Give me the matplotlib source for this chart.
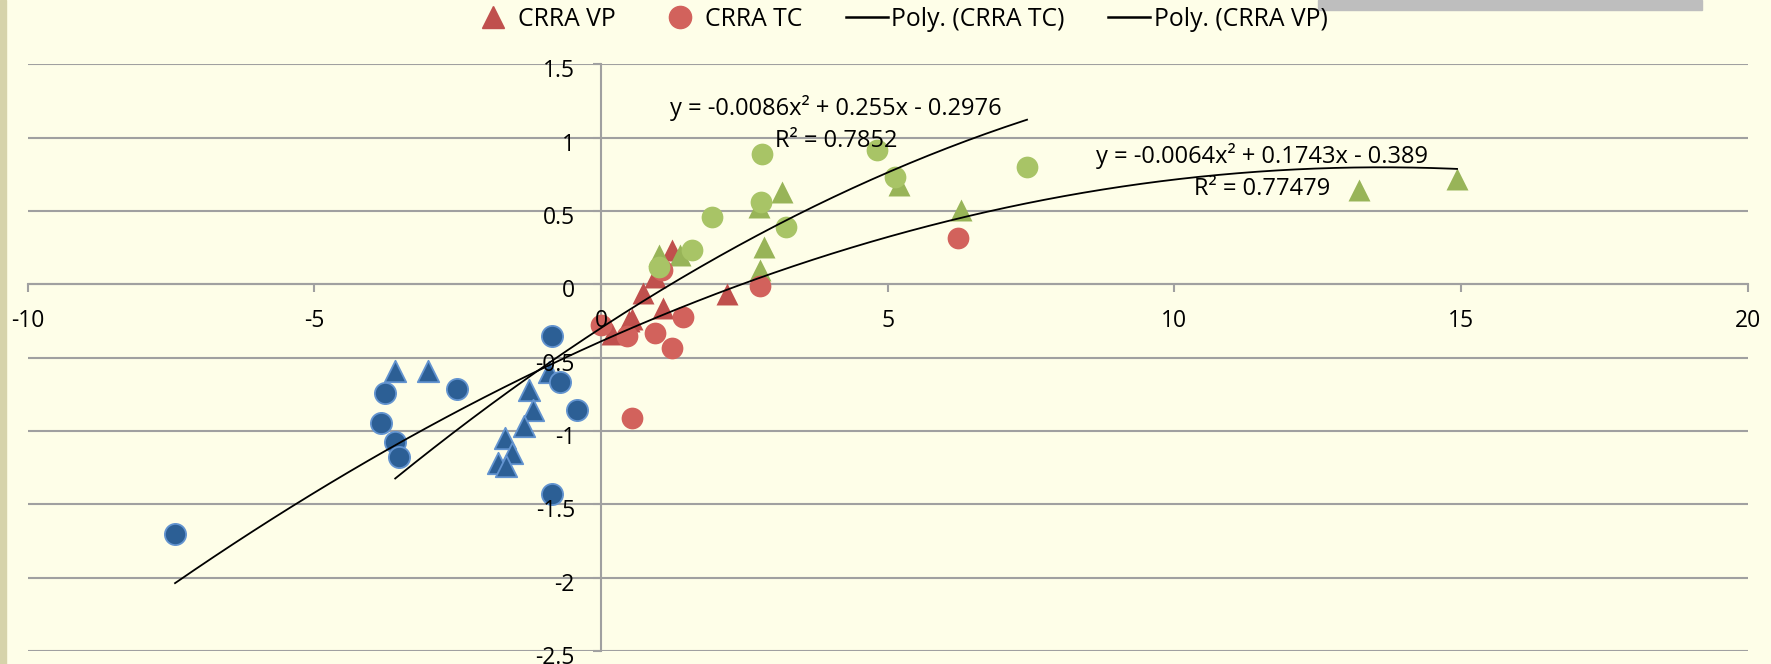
import matplotlib
matplotlib.use("Agg")
import matplotlib.pyplot as plt
import matplotlib.transforms as mtransforms
from matplotlib.lines import Line2D
from matplotlib.patches import Rectangle
import numpy as np

plt.rcParams['font.family'] = ['Open Sans', 'DejaVu Sans']

# ---------------- data ----------------
# blue (negative) points
blue_tri_x = [-3.59, -3.01, -0.90, -1.26, -1.19, -1.34, -1.68, -1.55, -1.80, -1.66]
blue_tri_y = [-0.59, -0.59, -0.595, -0.72, -0.86, -0.965, -1.05, -1.147, -1.215, -1.236]
blue_circ_x = [-7.43, -0.86, -3.76, -2.51, -0.72, -0.42, -3.83, -3.59, -3.52, -0.85]
blue_circ_y = [-1.70, -0.352, -0.738, -0.715, -0.663, -0.856, -0.947, -1.072, -1.175, -1.429]
# red (around zero) points
red_tri_x = [0.19, 0.535, 0.48, 0.74, 1.08, 2.19, 1.23, 0.94]
red_tri_y = [-0.338, -0.238, -0.25, -0.061, -0.163, -0.068, 0.234, 0.052]
red_circ_x = [-0.005, 0.45, 0.94, 1.23, 1.425, 2.77, 0.535, 1.06, 6.23]
red_circ_y = [-0.277, -0.352, -0.334, -0.436, -0.224, -0.009, -0.913, 0.098, 0.318]
# green (positive) points
green_tri_x = [3.15, 5.19, 2.76, 2.85, 2.77, 1.01, 1.38, 6.27, 13.22, 14.93]
green_tri_y = [0.632, 0.678, 0.526, 0.257, 0.098, 0.20, 0.20, 0.507, 0.644, 0.716]
green_circ_x = [2.80, 4.81, 5.13, 2.79, 1.93, 3.22, 1.59, 1.01, 7.43]
green_circ_y = [0.887, 0.916, 0.73, 0.56, 0.457, 0.389, 0.234, 0.121, 0.80]

# polynomial trendlines (coefficients a, b, c of a*x^2 + b*x + c)
tc_coef = [-0.0086, 0.255, -0.2976]
vp_coef = [-0.0064, 0.1743, -0.389]
tc_label = ["y = -0.0086x\u00b2 + 0.255x - 0.2976", "R\u00b2 = 0.7852"]
vp_label = ["y = -0.0064x\u00b2 + 0.1743x - 0.389", "R\u00b2 = 0.77479"]

legend_labels = ["CRRA VP", "CRRA TC", "Poly. (CRRA TC)", "Poly. (CRRA VP)"]

x_ticks = [-10, -5, 0, 5, 10, 15, 20]
x_tick_labels = ["-10", "-5", "0", "5", "10", "15", "20"]
y_ticks = [-2.5, -2, -1.5, -1, -0.5, 0, 0.5, 1, 1.5]
y_tick_labels = ["-2.5", "-2", "-1.5", "-1", "-0.5", "0", "0.5", "1", "1.5"]

# ---------------- style ----------------
BG = "#FEFEE8"
GRID = "#A0A0A0"
BLUE = "#2C5F95"
BLUE_EDGE = "#6394D0"
RED_TRI = "#C0504D"
RED_CIRC = "#D2625C"
GREEN_TRI = "#98B458"
GREEN_CIRC = "#A8C466"
FS = 16.5

W, H = 1771, 664
fig = plt.figure(figsize=(W / 100, H / 100), dpi=100, facecolor=BG)
ax = fig.add_axes([27.7 / W, 13 / H, 1720 / W, 586.7 / H])
ax.set_facecolor(BG)
ax.set_xlim(-10, 20)
ax.set_ylim(-2.5, 1.5)

for yv in y_ticks:
    ax.axhline(yv, color=GRID, lw=1.5, zorder=0.5)

for s in ["top", "right"]:
    ax.spines[s].set_visible(False)
ax.spines["left"].set_position(("data", 0))
ax.spines["bottom"].set_position(("data", 0))
for s in ["left", "bottom"]:
    ax.spines[s].set_color(GRID)
    ax.spines[s].set_linewidth(1.5)
    ax.spines[s].set_zorder(0.6)

ax.set_xticks(x_ticks)
ax.set_xticklabels(x_tick_labels)
ax.set_yticks(y_ticks)
ax.set_yticklabels(y_tick_labels)
ax.tick_params(axis="x", direction="out", length=5.8, width=1.5, color=GRID,
               pad=12, labelsize=FS, labelcolor="black")
ax.tick_params(axis="y", direction="out", length=5.8, width=1.5, color=GRID,
               pad=13, labelsize=FS, labelcolor="black")
off = mtransforms.ScaledTranslation(0, -4 / 100, fig.dpi_scale_trans)
for lab in ax.get_yticklabels():
    lab.set_transform(lab.get_transform() + off)

S_TRI = 250
S_CIRC = 245
ax.scatter(red_tri_x, red_tri_y, marker="^", s=S_TRI, color=RED_TRI, linewidths=0, zorder=1)
ax.scatter(blue_tri_x, blue_tri_y, marker="^", s=S_TRI * 0.95, color=BLUE,
           edgecolors=BLUE_EDGE, linewidths=1.3, zorder=1)
ax.scatter(green_tri_x, green_tri_y, marker="^", s=S_TRI, color=GREEN_TRI, linewidths=0, zorder=1)
ax.scatter(red_circ_x, red_circ_y, marker="o", s=S_CIRC, color=RED_CIRC, linewidths=0, zorder=1)
ax.scatter(blue_circ_x, blue_circ_y, marker="o", s=S_CIRC * 0.95, color=BLUE,
           edgecolors=BLUE_EDGE, linewidths=1.3, zorder=1)
ax.scatter(green_circ_x, green_circ_y, marker="o", s=S_CIRC, color=GREEN_CIRC, linewidths=0, zorder=1)

# trendline ranges from the series they were fitted on
tc_x_all = np.array(blue_tri_x + red_circ_x + green_circ_x)
vp_x_all = np.array(blue_circ_x + red_tri_x + green_tri_x)

def poly(c, x):
    return c[0] * x ** 2 + c[1] * x + c[2]

xt = np.linspace(tc_x_all.min(), tc_x_all.max(), 200)
ax.plot(xt, poly(tc_coef, xt), color="black", lw=1.3, zorder=2)
xv = np.linspace(vp_x_all.min(), vp_x_all.max(), 200)
ax.plot(xv, poly(vp_coef, xv), color="black", lw=1.3, zorder=2)

FS_EQ = 17
ax.text(4.10, 1.155, tc_label[0], ha="center", va="baseline", fontsize=FS_EQ, zorder=3)
ax.text(4.10, 0.939, tc_label[1], ha="center", va="baseline", fontsize=FS_EQ, zorder=3)
ax.text(11.53, 0.826, vp_label[0], ha="center", va="baseline", fontsize=FS_EQ, zorder=3)
ax.text(11.53, 0.609, vp_label[1], ha="center", va="baseline", fontsize=FS_EQ, zorder=3)

handles = [
    Line2D([], [], marker="^", ls="none", color=RED_TRI, ms=16),
    Line2D([], [], marker="o", ls="none", color=RED_CIRC, ms=16),
    Line2D([], [], color="black", lw=1.8),
    Line2D([], [], color="black", lw=1.8),
]
FS_LEG = 17.8
fig.legend(handles, legend_labels, loc="center", ncol=4, frameon=False,
           bbox_to_anchor=(900 / W, 1 - 19.5 / H), fontsize=FS_LEG,
           handlelength=1.7, handletextpad=0.15, columnspacing=1.75,
           borderpad=0.1)

# decorative elements of the original frame
fig.patches.append(Rectangle((0, 0), 6 / W, 1, transform=fig.transFigure,
                             color="#D6D3AA", zorder=0))
fig.patches.append(Rectangle((1318 / W, 1 - 9.5 / H), (1702 - 1318) / W, 9.5 / H,
                             transform=fig.transFigure, color="#BEBEBE", zorder=0))

fig.savefig("out.png", dpi=100, facecolor=BG)
